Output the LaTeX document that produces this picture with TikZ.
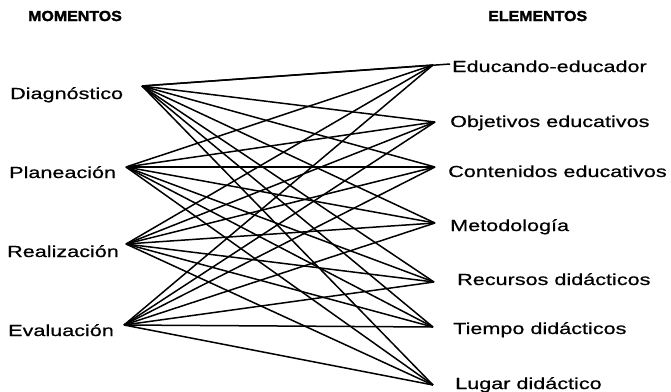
\documentclass[tikz,border=0pt]{standalone}
\usepackage{fontspec}
\setmainfont{Liberation Sans}
\newfontfamily\widefont[FakeStretch=1.35,FakeBold=0.6]{Liberation Sans}
\newfontfamily\hdrfont[FakeStretch=1.1,FakeBold=2]{Liberation Sans Bold}
\begin{document}
\begin{tikzpicture}[x=1pt,y=-1pt,
  lbl/.style={anchor=base west,inner sep=0pt,font=\widefont\fontsize{16}{18}\selectfont},
  hdr/.style={anchor=base west,inner sep=0pt,font=\hdrfont\fontsize{14.5}{16}\selectfont},
  link/.style={line width=1.5pt,black}]
\useasboundingbox (0,0) rectangle (671,391);
\node[hdr] (h1) at (28,21) {MOMENTOS};
\node[hdr] (h2) at (488,21) {ELEMENTOS};
% left labels
\node[lbl] (l1) at (10,99) {Diagnóstico};
\node[lbl] (l2) at (9,178) {Planeación};
\node[lbl] (l3) at (7,257) {Realización};
\node[lbl] (l4) at (8,336) {Evaluación};
% right labels
\node[lbl] (r1) at (452,72) {Educando-educador};
\node[lbl] (r2) at (450,127) {Objetivos educativos};
\node[lbl] (r3) at (448,177) {Contenidos educativos};
\node[lbl] (r4) at (450,231) {Metodología};
\node[lbl] (r5) at (457,285) {Recursos didácticos};
\node[lbl] (r6) at (453,334) {Tiempo didácticos};
\node[lbl] (r7) at (455,389) {Lugar didáctico};
% convergence points
\coordinate (a1) at (142,86);
\coordinate (a2) at (126,167);
\coordinate (a3) at (126,244);
\coordinate (a4) at (124,325);
\coordinate (b1) at (433,65);
\coordinate (b2) at (435,122);
\coordinate (b3) at (435,167);
\coordinate (b4) at (435,223);
\coordinate (b5) at (434,282);
\coordinate (b6) at (433,327);
\coordinate (b7) at (433,385);
\coordinate (e1) at (450,64);
\foreach \i in {1,2,3,4}{
  \foreach \j in {1,...,7}{
    \draw[link] (a\i) -- (b\j);
  }
}
\draw[link] (a1) -- (e1);
\end{tikzpicture}
\end{document}
